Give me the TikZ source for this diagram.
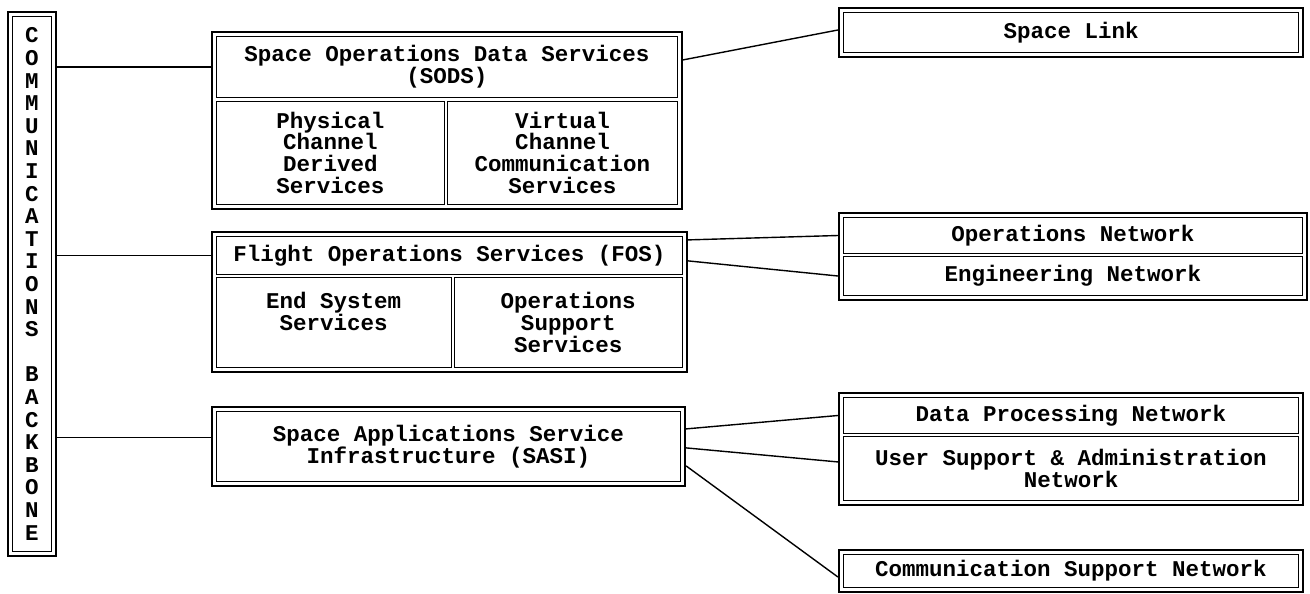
\documentclass[tikz,border=0pt]{standalone}
\usepackage{fontspec}
\setmainfont{Liberation Mono}
\begin{document}
\begin{tikzpicture}[x=1bp,y=-1bp,
  txt/.style={font=\fontsize{22.5bp}{21.7bp}\selectfont\bfseries},
  outerbox/.style={draw, line width=2.2bp, inner sep=0pt},
  cell/.style={draw, line width=0.9bp, inner sep=0pt, align=center, txt},
  conn/.style={line width=1.4bp}]
\useasboundingbox (0,0) rectangle (1310,594);

% Communications backbone
\node[outerbox, minimum width=48bp, minimum height=544bp] (bb) at (32,284) {};
\node[cell, minimum width=39bp, minimum height=535bp,
      font=\fontsize{22.5bp}{22.6bp}\selectfont\bfseries] (bbt) at (32,284)
  {C\\O\\M\\M\\U\\N\\I\\C\\A\\T\\I\\O\\N\\S\\[22.6bp]B\\A\\C\\K\\B\\O\\N\\E};

% SODS
\node[outerbox, minimum width=470bp, minimum height=177bp] (sods) at (447,120.5) {};
\node[cell, minimum width=461bp, minimum height=61bp] (sodsT) at (447,67)
  {Space Operations Data Services\\(SODS)};
\node[cell, minimum width=228bp, minimum height=103.5bp] (sodsL) at (330.5,152.75)
  {Physical\\Channel\\Derived\\Services};
\node[cell, minimum width=230bp, minimum height=103.5bp] (sodsR) at (562.5,152.75)
  {Virtual\\Channel\\Communication\\Services};

% FOS
\node[outerbox, minimum width=475bp, minimum height=140bp] (fos) at (449.5,302) {};
\node[cell, minimum width=466bp, minimum height=37.5bp] (fosT) at (449.5,255.25)
  {Flight Operations Services (FOS)};
\node[cell, minimum width=234.5bp, minimum height=90bp] (fosL) at (333.75,322.5)
  {End System\\Services\\\mbox{}};
\node[cell, minimum width=228.5bp, minimum height=90bp] (fosR) at (568.25,322.5)
  {Operations\\Support\\Services};

% SASI
\node[outerbox, minimum width=473bp, minimum height=79bp] (sasi) at (448.5,446.5) {};
\node[cell, minimum width=464bp, minimum height=70bp] (sasiT) at (448.5,446.5)
  {Space Applications Service\\Infrastructure (SASI)};

% Space Link
\node[outerbox, minimum width=464bp, minimum height=49bp] (sl) at (1071,32.5) {};
\node[cell, minimum width=455bp, minimum height=40bp] (slT) at (1071,32.5) {Space Link};

% Operations / Engineering
\node[outerbox, minimum width=468bp, minimum height=87bp] (grpA) at (1073,256.5) {};
\node[cell, minimum width=459bp, minimum height=36bp] (ops) at (1073,235.5) {Operations Network};
\node[cell, minimum width=459bp, minimum height=39bp] (eng) at (1073,276) {Engineering Network};

% Data processing / User support
\node[outerbox, minimum width=464bp, minimum height=112bp] (grpB) at (1071,449) {};
\node[cell, minimum width=455bp, minimum height=36bp] (dp) at (1071,415.5) {Data Processing Network};
\node[cell, minimum width=455bp, minimum height=64bp] (usa) at (1071,468.5)
  {User Support \& Administration\\Network};

% Communication support
\node[outerbox, minimum width=464bp, minimum height=42bp] (comm) at (1071,571) {};
\node[cell, minimum width=455bp, minimum height=33bp] (commT) at (1071,571)
  {Communication Support Network};

% connectors from backbone
\draw[conn] (sods.west |- sodsT.west) -- (bb.east |- sodsT.west);
\draw[conn] (fos.west |- fosT.west) -- (bb.east |- fosT.west);
\draw[conn] ([yshift=9bp]sasi.west) coordinate (sasiIn) -- (sasiIn -| bb.east);

% connectors to networks
\draw[conn] ([yshift=-29bp]sods.north east) -- ([yshift=2.5bp]sl.west);
\draw[conn] ([yshift=-9bp]fos.north east) -- (grpA.west |- ops.west);
\draw[conn] ([yshift=-30bp]fos.north east) -- (grpA.west |- eng.west);
\draw[conn] ([yshift=-23bp]sasi.north east) -- (grpB.west |- dp.west);
\draw[conn] ([yshift=-42bp]sasi.north east) -- ([xshift=-4.5bp,yshift=6.5bp]usa.west);
\draw[conn] ([yshift=-60bp]sasi.north east) -- ([yshift=-6bp]comm.west);
\end{tikzpicture}
\end{document}
